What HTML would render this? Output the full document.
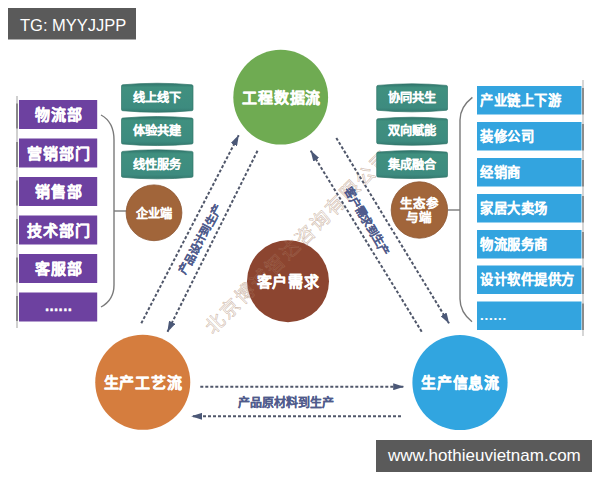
<!DOCTYPE html>
<html lang="zh-CN"><head><meta charset="utf-8">
<style>
html,body{margin:0;padding:0;background:#fff;width:600px;height:480px;overflow:hidden}
svg{display:block}
text{font-family:"Liberation Sans",sans-serif}
.wb{fill:#fff;font-weight:900;stroke:#fff;stroke-width:0.35;stroke-linejoin:round}
.ws{stroke-width:0.12}
</style></head><body>
<svg width="600" height="480" viewBox="0 0 600 480">
<defs>
<marker id="ah" viewBox="0 0 11 7" refX="10.5" refY="3.5" markerWidth="11" markerHeight="7" markerUnits="userSpaceOnUse" orient="auto">
<path d="M0,0 L11,3.5 L0,7 Z" fill="#4b5877"/>
</marker>
<linearGradient id="tg" x1="0" y1="0" x2="0" y2="1">
<stop offset="0" stop-color="#2f726a"/><stop offset="0.14" stop-color="#40907f"/><stop offset="0.85" stop-color="#3d8b7f"/><stop offset="1" stop-color="#34796f"/>
</linearGradient>
</defs>

<!-- center circle + watermark -->
<g stroke-opacity="0.75"><text x="0" y="7" font-size="19" letter-spacing="2" text-anchor="middle" fill="none" stroke="#c4a893" stroke-width="0.5" transform="translate(298.3,241.6) rotate(-44.5)">北京博诚智达咨询有限公司</text></g>
<circle cx="288" cy="281.2" r="41" fill="#8c4530"/>
<g stroke-opacity="0.3"><text x="0" y="7" font-size="19" letter-spacing="2" text-anchor="middle" fill="none" stroke="#c4a893" stroke-width="0.5" transform="translate(298.3,241.6) rotate(-44.5)">北京博诚智达咨询有限公司</text></g>
<text class="wb" x="288.4" y="286.5" font-size="15" letter-spacing="0.9" text-anchor="middle">客户需求</text>

<!-- left grey line -->
<rect x="16" y="96" width="2" height="232" fill="#d0d0d0"/><rect x="16" y="103.5" width="2" height="25" fill="#888"/><rect x="16" y="142.0" width="2" height="25" fill="#888"/><rect x="16" y="180.5" width="2" height="25" fill="#888"/><rect x="16" y="219.0" width="2" height="25" fill="#888"/><rect x="16" y="257.5" width="2" height="25" fill="#888"/><rect x="16" y="296.0" width="2" height="25" fill="#888"/>
<!-- purple boxes -->
<g fill="#6d41a0">
<rect x="19" y="100" width="78.2" height="29"/>
<rect x="19" y="138.5" width="78.2" height="29"/>
<rect x="19" y="177" width="78.2" height="29"/>
<rect x="19" y="215.5" width="78.2" height="29"/>
<rect x="19" y="254" width="78.2" height="29"/>
<rect x="19" y="292.5" width="78.2" height="29"/>
</g>
<g class="wb" font-size="15" letter-spacing="0.9" text-anchor="middle">
<text x="59.1" y="120">物流部</text>
<text x="59.1" y="158.5">营销部门</text>
<text x="59.1" y="197">销售部</text>
<text x="59.1" y="235.5">技术部门</text>
<text x="59.1" y="274">客服部</text>
<text x="58.6" y="311.2" letter-spacing="0.4">......</text>
</g>

<!-- left bracket -->
<path d="M101,115 Q114,122 114,140 L114,285 Q114,300 101,307" fill="none" stroke="#7a7a7a" stroke-width="1.4"/>
<line x1="114" y1="211" x2="127" y2="211" stroke="#7a7a7a" stroke-width="1.4"/>

<!-- left teal cylinders -->
<g fill="url(#tg)" stroke="#317569" stroke-width="0.7">
<path d="M121.5,86.1 Q121.5,84.9 122.7,84.8 Q157.25,81.7 191.8,84.8 Q193,84.9 193,86.1 L193,109.4 Q193,110.6 191.8,110.7 Q157.25,113.8 122.7,110.7 Q121.5,110.6 121.5,109.4 Z"/>
<path d="M121.5,119.4 Q121.5,118.2 122.7,118.1 Q157.25,115.0 191.8,118.1 Q193,118.2 193,119.4 L193,142.7 Q193,143.9 191.8,144.0 Q157.25,147.1 122.7,144.0 Q121.5,143.9 121.5,142.7 Z"/>
<path d="M121.5,152.7 Q121.5,151.5 122.7,151.4 Q157.25,148.3 191.8,151.4 Q193,151.5 193,152.7 L193,176.0 Q193,177.2 191.8,177.3 Q157.25,180.4 122.7,177.3 Q121.5,177.2 121.5,176.0 Z"/>
</g>
<g class="wb ws" font-size="12.2" text-anchor="middle">
<text x="157" y="102">线上线下</text>
<text x="157" y="135.3">体验共建</text>
<text x="157" y="168.6">线性服务</text>
</g>
<!-- left brown circle -->
<circle cx="154" cy="212.8" r="27.9" fill="#a1653a" stroke="#8d5631" stroke-width="0.8"/>
<text class="wb ws" x="154" y="218" font-size="12.2" text-anchor="middle">企业端</text>

<!-- right teal cylinders -->
<g fill="url(#tg)" stroke="#317569" stroke-width="0.7">
<path d="M376.7,86.7 Q376.7,85.5 377.9,85.4 Q412.1,82.3 446.3,85.4 Q447.5,85.5 447.5,86.7 L447.5,109.0 Q447.5,110.2 446.3,110.3 Q412.1,113.4 377.9,110.3 Q376.7,110.2 376.7,109.0 Z"/>
<path d="M376.7,120.1 Q376.7,118.9 377.9,118.8 Q412.1,115.7 446.3,118.8 Q447.5,118.9 447.5,120.1 L447.5,142.4 Q447.5,143.6 446.3,143.7 Q412.1,146.8 377.9,143.7 Q376.7,143.6 376.7,142.4 Z"/>
<path d="M376.7,153.4 Q376.7,152.2 377.9,152.1 Q412.1,149.0 446.3,152.1 Q447.5,152.2 447.5,153.4 L447.5,175.7 Q447.5,176.9 446.3,177.0 Q412.1,180.1 377.9,177.0 Q376.7,176.9 376.7,175.7 Z"/>
</g>
<g class="wb ws" font-size="12.2" text-anchor="middle">
<text x="412" y="102">协同共生</text>
<text x="412" y="135.3">双向赋能</text>
<text x="412" y="168.6">集成融合</text>
</g>
<circle cx="419.4" cy="210" r="28.2" fill="#a1653a" stroke="#8d5631" stroke-width="0.8"/>
<g class="wb ws" font-size="12.5" text-anchor="middle">
<text x="419.4" y="207.7">生态参</text>
<text x="419.4" y="221.5">与端</text>
</g>

<!-- right bracket -->
<path d="M472.4,97.4 Q460,107 460,120 L460,299 Q460,312 472,321.8" fill="none" stroke="#7a7a7a" stroke-width="1.4"/>
<line x1="448" y1="210" x2="460" y2="210" stroke="#7a7a7a" stroke-width="1.4"/>
<!-- right grey line -->
<rect x="582" y="80" width="2" height="256" fill="#d6d6d6"/><rect x="582" y="88" width="2" height="26.5" fill="#8c8c8c"/><rect x="582" y="124" width="2" height="26.5" fill="#8c8c8c"/><rect x="582" y="160" width="2" height="26.5" fill="#8c8c8c"/><rect x="582" y="196" width="2" height="26.5" fill="#8c8c8c"/><rect x="582" y="232" width="2" height="26.5" fill="#8c8c8c"/><rect x="582" y="267.5" width="2" height="26.5" fill="#8c8c8c"/><rect x="582" y="303.5" width="2" height="26.5" fill="#8c8c8c"/>

<!-- blue boxes -->
<g fill="#33a4df">
<rect x="477" y="86" width="104.5" height="28.5"/>
<rect x="477" y="122" width="104.5" height="28.5"/>
<rect x="477" y="158" width="104.5" height="28.5"/>
<rect x="477" y="194" width="104.5" height="28.5"/>
<rect x="477" y="230" width="104.5" height="28.5"/>
<rect x="477" y="265.5" width="104.5" height="28.5"/>
<rect x="477" y="301.5" width="104.5" height="28.5"/>
</g>
<g class="wb ws" font-size="13.3" letter-spacing="0.5">
<text x="480" y="104.8">产业链上下游</text>
<text x="480" y="140.8">装修公司</text>
<text x="480" y="176.8">经销商</text>
<text x="480" y="212.8">家居大卖场</text>
<text x="480" y="248.8">物流服务商</text>
<text x="480" y="284.3">设计软件提供方</text>
<text x="480" y="320" letter-spacing="0.8">......</text>
</g>

<!-- big circles -->
<circle cx="280.7" cy="97.2" r="47.4" fill="#6fab52"/>
<text class="wb" x="281.8" y="102.6" font-size="15" letter-spacing="0.8" text-anchor="middle">工程数据流</text>
<circle cx="142.75" cy="382.25" r="47.5" fill="#d57d3e"/>
<text class="wb" x="143.1" y="387.6" font-size="15" letter-spacing="0.8" text-anchor="middle">生产工艺流</text>
<circle cx="460" cy="382.5" r="47.6" fill="#31a5e0"/>
<text class="wb" x="460.6" y="387.6" font-size="15" letter-spacing="0.8" text-anchor="middle">生产信息流</text>

<!-- dashed arrows -->
<g stroke="#50576a" stroke-width="2" stroke-dasharray="3 2" fill="none">
<line x1="141.3" y1="323.3" x2="238.7" y2="135.3" marker-end="url(#ah)"/>
<line x1="257.5" y1="150.8" x2="167.5" y2="331.7" marker-end="url(#ah)"/>
<line x1="421.7" y1="331.7" x2="310.8" y2="150.8" marker-end="url(#ah)"/>
<line x1="336.3" y1="138" x2="449" y2="323.3" marker-end="url(#ah)"/>
<line x1="200.3" y1="386.7" x2="403.7" y2="386.7" marker-end="url(#ah)"/>
<line x1="401" y1="416.3" x2="191.7" y2="416.3" marker-end="url(#ah)"/>
</g>
<g fill="#4f5b8c" stroke="#4f5b8c" stroke-width="0.12" font-weight="bold" font-size="11.3" text-anchor="middle">
<text transform="translate(200,239.5) rotate(-61.5)" y="4.2">产品设计到生产</text>
<text transform="translate(366.8,221.1) rotate(59.5)" y="4.2">客户需求到生产</text>
<text x="286" y="406.5" font-size="12">产品原材料到生产</text>
</g>

<!-- labels -->
<rect x="8" y="8" width="128" height="31.5" fill="#5a5a5a"/>
<text x="20" y="30.75" font-size="16.5" fill="#fff">TG: MYYJJPP</text>
<rect x="376" y="440" width="216" height="32" fill="#5a5a5a"/>
<text x="388" y="461" font-size="17" fill="#fff">www.hothieuvietnam.com</text>
</svg>
</body></html>
